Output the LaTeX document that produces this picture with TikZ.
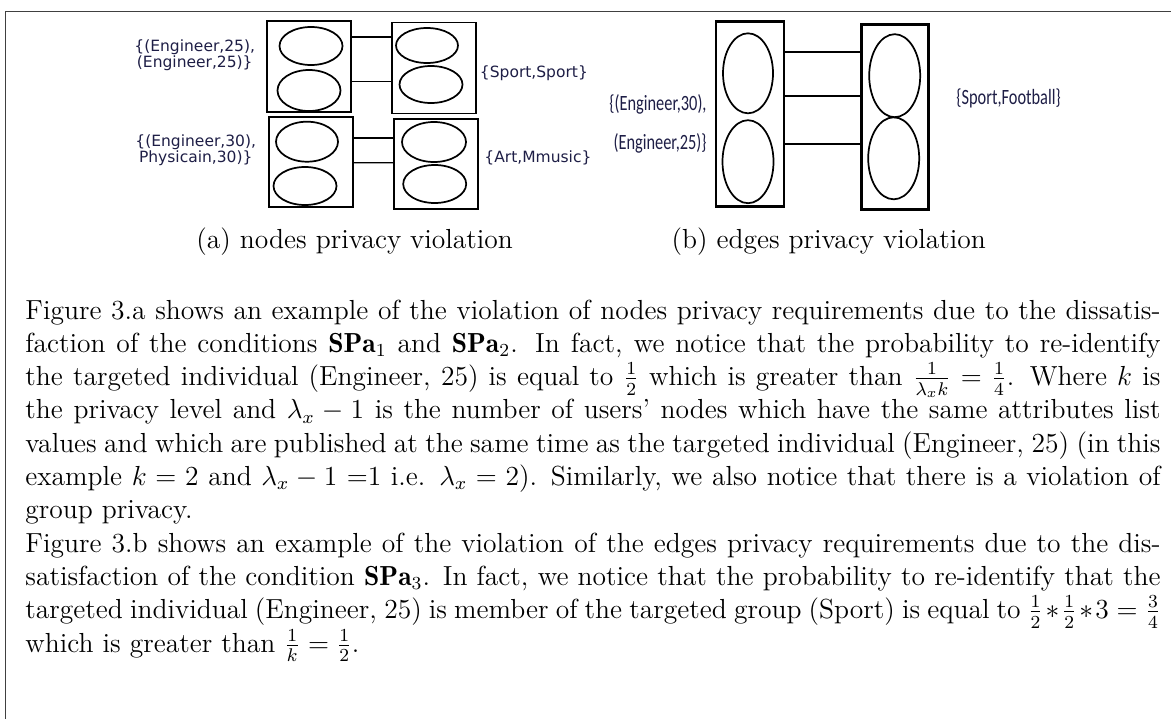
\documentclass[tikz,border=0pt]{standalone}
\usepackage{mathtools, amssymb, amsfonts}
\usepackage{xcolor}
\usepackage{fontspec}
\usepackage{tikz}
\usetikzlibrary{shapes,calc}
\newfontfamily\verdfont{DejaVu Sans}
\newfontfamily\narrowfont[FakeStretch=0.75]{Carlito}
\definecolor{labcol}{RGB}{30,30,70}
\def\upx{0.4354pt}

\begin{document}
\begin{tikzpicture}[x=0.4354pt,y=-0.4354pt]
\tikzset{box/.style={rectangle, draw=black, line width=0.85pt, inner sep=0pt},
  thickbox/.style={box, line width=1.2pt},
  oval/.style={ellipse, draw=black, line width=0.75pt, inner sep=0pt},
  lab/.style={text=labcol, inner sep=0pt, font=\verdfont\fontsize{6.75}{7}\selectfont, align=center},
  blab/.style={text=labcol, inner sep=0pt, font=\narrowfont\fontsize{9.5}{16.7}\selectfont, align=right},
  capt/.style={inner sep=0pt, font=\fontsize{12}{14.5}\selectfont, anchor=base}}
\useasboundingbox (0,0) rectangle (1171,719);
\draw[black!75, line width=0.6pt] (1171,11.7) -- (5.5,11.7) -- (5.5,719);

\node[box, minimum width=84*\upx, minimum height=91*\upx] (a1) at (309,66.5) {};
\node[box, minimum width=84*\upx, minimum height=91*\upx] (a2) at (434,68) {};
\node[box, minimum width=84*\upx, minimum height=90*\upx] (a3) at (311,162) {};
\node[box, minimum width=84*\upx, minimum height=90*\upx] (a4) at (436,164) {};
\node[oval, minimum width=63*\upx, minimum height=38*\upx] (a1u) at (311,46) {};
\node[oval, minimum width=63*\upx, minimum height=41*\upx] (a1d) at (309,90.5) {};
\node[oval, minimum width=62*\upx, minimum height=35*\upx] (a2u) at (427,45.5) {};
\node[oval, minimum width=63*\upx, minimum height=37*\upx] (a2d) at (431,84.5) {};
\node[oval, minimum width=62*\upx, minimum height=40*\upx] (a3u) at (307,141.7) {};
\node[oval, minimum width=63*\upx, minimum height=38*\upx] (a3d) at (305,186) {};
\node[oval, minimum width=64*\upx, minimum height=40*\upx] (a4u) at (434,142) {};
\node[oval, minimum width=63*\upx, minimum height=38*\upx] (a4d) at (434.7,184) {};

\draw[line width=0.6pt] ([yshift=29.5*\upx]a1.east) -- ([yshift=31*\upx]a2.west);
\draw[line width=0.6pt] ([yshift=-15.2*\upx]a1.east) -- ([yshift=-13.7*\upx]a2.west);
\draw[line width=0.6pt] ([yshift=24*\upx]a3.east) -- ([yshift=26*\upx]a4.west);
\draw[line width=0.6pt] ([yshift=-0.7*\upx]a3.east) -- ([yshift=1.3*\upx]a4.west);

\node[lab, anchor=west] (la1) at (134,55) {\{(Engineer,25),\\(Engineer,25)\}};
\node[lab, anchor=west] (la2) at (135,150) {\{(Engineer,30),\\Physicain,30)\}};
\node[lab, anchor=west] (la3) at (479.5,73) {\{Sport,Sport\}};
\node[lab, anchor=west] (la4) at (484,157.7) {\{Art,Mmusic\}};

\node[thickbox, minimum width=68*\upx, minimum height=185*\upx] (b1) at (750,114.2) {};
\node[thickbox, minimum width=67*\upx, minimum height=185*\upx] (b2) at (894.7,116.7) {};
\node[oval, minimum width=50*\upx, minimum height=80*\upx] (b1u) at (748,73.3) {};
\node[oval, minimum width=51*\upx, minimum height=83*\upx] (b1d) at (748,161.7) {};
\node[oval, minimum width=51*\upx, minimum height=83*\upx] (b2u) at (894.7,75.7) {};
\node[oval, minimum width=51*\upx, minimum height=82*\upx] (b2d) at (893.7,158.3) {};

\draw[line width=1pt] ([yshift=62.5*\upx]b1.east) -- ([yshift=65*\upx]b2.west);
\draw[line width=1pt] ([yshift=18.5*\upx]b1.east) -- ([yshift=21*\upx]b2.west);
\draw[line width=1pt] ([yshift=-30.1*\upx]b1.east) -- ([yshift=-27.6*\upx]b2.west);

\node[blab, anchor=east] (lb1) at (707,124) {\{(Engineer,30),\\(Engineer,25)\}};
\node[blab, anchor=west] (lb2) at (956,98) {\{Sport,Football\}};

\node[capt] (capa) at (354.7,248) {(a) nodes privacy violation};
\node[capt] (capb) at (828.7,248) {(b) edges privacy violation};

\node[anchor=base west, inner sep=0pt] (txt) at (25,319) {\parbox[t]{494.2pt}{\fontsize{12}{14.5}\selectfont\baselineskip=14.5pt\parindent=0pt Figure 3.a shows an example of the violation of nodes privacy requirements due to the dissatis-\linebreak faction of the conditions $\mathbf{SPa}_1$ and $\mathbf{SPa}_2$. In fact, we notice that the probability to re-identify\linebreak the targeted individual (Engineer, 25) is equal to $\frac{1}{2}$ which is greater than $\frac{1}{\lambda_x k}=\frac{1}{4}$. Where $k$ is\linebreak the privacy level and $\lambda_x-1$ is the number of users' nodes which have the same attributes list\linebreak values and which are published at the same time as the targeted individual (Engineer, 25) (in this\linebreak example $k=2$ and $\lambda_x-1$ =1 i.e. $\lambda_x=2$). Similarly, we also notice that there is a violation of\linebreak group privacy.\par
Figure 3.b shows an example of the violation of the edges privacy requirements due to the dis-\linebreak satisfaction of the condition $\mathbf{SPa}_3$. In fact, we notice that the probability to re-identify that the\linebreak targeted individual (Engineer, 25) is member of the targeted group (Sport) is equal to $\frac{1}{2}*\frac{1}{2}*3=\frac{3}{4}$\linebreak which is greater than $\frac{1}{k}=\frac{1}{2}$.\par}};
\end{tikzpicture}
\end{document}
